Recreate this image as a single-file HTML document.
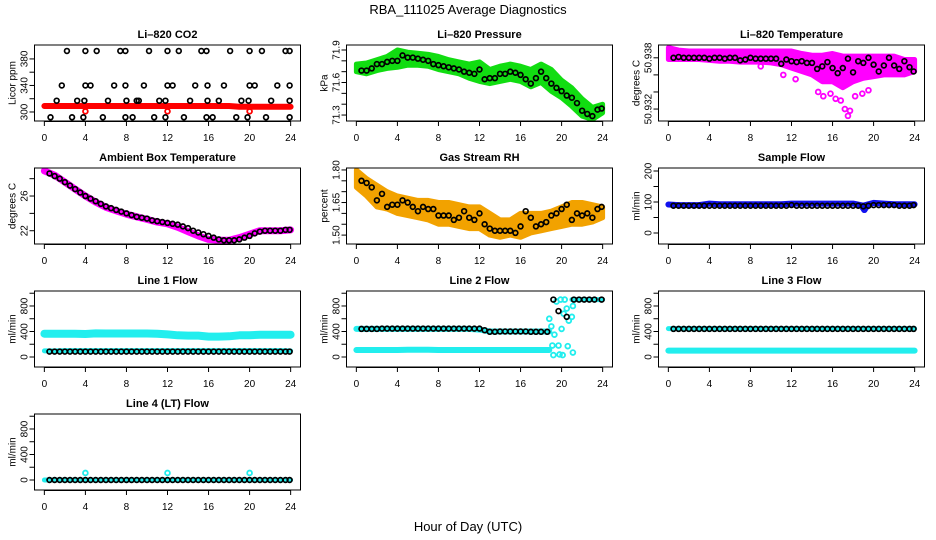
<!DOCTYPE html>
<html><head><meta charset="utf-8">
<style>
html,body{margin:0;padding:0;background:#fff;}
svg{display:block;font-family:"Liberation Sans",sans-serif;}
</style></head>
<body>
<svg id="chart" width="936" height="540" viewBox="0 0 936 540" xmlns="http://www.w3.org/2000/svg">
<rect x="0" y="0" width="936" height="540" fill="#fff"/>
<text x="468" y="14" text-anchor="middle" font-size="13">RBA_111025  Average Diagnostics</text>
<text x="468" y="531" text-anchor="middle" font-size="13">Hour of Day (UTC)</text>
</svg>
<script>
// shared hours for half-hourly averages
const H = [0.5,1,1.5,2,2.5,3,3.5,4,4.5,5,5.5,6,6.5,7,7.5,8,8.5,9,9.5,10,10.5,11,11.5,12,12.5,13,13.5,14,14.5,15,15.5,16,16.5,17,17.5,18,18.5,19,19.5,20,20.5,21,21.5,22,22.5,23,23.5,23.9];
const HH = [0,1,2,3,4,5,6,7,8,9,10,11,12,13,14,15,16,17,18,19,20,21,22,23,24];
const xTicks = [0,4,8,12,16,20,24];

// CO2
const co2Hours = [2.2,4,5.1,7.4,7.9,10.2,12,13.1,15.3,15.8,18.1,20,21.2,23.5,23.9, 1.7,4,4.5,6.8,7.9,9.7,12,12.5,14.7,15.9,17.5,20,20.5,22.7,23.9, 1.2,3.2,3.9,6.2,8,9,9.2,11.2,11.8,14.2,15.9,17,19.2,19.9,22.1,23.9, 0.6,2.7,3.8,5.7,7.9,8.6,10.7,11.8,13.6,15.8,16.4,18.7,19.8,21.6,23.9];
const co2Vals = [392,392,392,392,392,392,392,392,392,392,392,392,392,392,392, 340,340,340,340,340,340,340,340,340,340,340,340,340,340,340, 317,317,317,317,317,317,317,317,317,317,317,317,317,317,317,317, 292,292,292,292,292,292,292,292,292,292,292,292,292,292,292];
const co2Red = [309,309,309,309,309,309,309,309,309,309,309,309,309,309,309,309,309,309,309,308,308,308,308,308,308];
const co2RedPtsX = [4,12,20];
const co2RedPtsY = [301,301,301];

// Pressure
const presBlack = [71.71,71.71,71.73,71.77,71.77,71.79,71.8,71.8,71.85,71.83,71.83,71.82,71.81,71.80,71.77,71.76,71.75,71.74,71.73,71.72,71.70,71.69,71.68,71.72,71.63,71.64,71.64,71.68,71.68,71.70,71.69,71.67,71.63,71.59,71.64,71.70,71.64,71.59,71.55,71.52,71.48,71.46,71.41,71.34,71.31,71.29,71.35,71.36];
const presHi = [71.77,71.78,71.81,71.84,71.9,71.88,71.87,71.86,71.84,71.81,71.79,71.77,71.79,71.72,71.75,71.77,71.75,71.72,71.77,71.72,71.62,71.55,71.45,71.37,71.4];
const presLo = [71.7,71.68,71.71,71.73,71.74,71.76,71.76,71.75,71.72,71.70,71.68,71.64,71.61,71.59,71.61,71.63,71.61,71.56,71.6,71.52,71.46,71.38,71.29,71.26,71.32];

// Li-820 temperature
const tempBlack = [50.9380,50.9381,50.9380,50.9380,50.9380,50.9380,50.9380,50.9379,50.9380,50.9380,50.9379,50.9380,50.9380,50.9377,50.9378,50.9380,50.9379,50.9379,50.9379,50.9379,50.9379,50.9373,50.9378,50.9376,50.9375,50.9376,50.9374,50.9374,50.9367,50.9370,50.9375,50.9368,50.9362,50.9368,50.9379,50.9363,50.9376,50.9374,50.9380,50.9372,50.9364,50.9371,50.9380,50.9371,50.9367,50.9376,50.9369,50.9364];
const tempHi = [50.9392,50.9389,50.9388,50.9388,50.9388,50.9388,50.9388,50.9388,50.9388,50.9388,50.9388,50.9388,50.9388,50.9385,50.9383,50.9383,50.9385,50.9382,50.9382,50.9382,50.9382,50.9382,50.9382,50.9378,50.9378];
const tempLo = [50.9378,50.9378,50.9378,50.9378,50.9377,50.9376,50.9376,50.9375,50.9375,50.9375,50.9374,50.9372,50.9368,50.9364,50.9360,50.9352,50.9352,50.9345,50.9352,50.9356,50.9358,50.9360,50.9360,50.9360,50.9364];
const tempScatX = [14.6,15.1,15.8,16.3,16.8,17.2,17.5,17.7,18.2,18.9,19.5,11.2,12.4,9.0];
const tempScatY = [50.9340,50.9335,50.9338,50.9332,50.9330,50.9320,50.9312,50.9318,50.9335,50.9338,50.9342,50.9360,50.9355,50.9370];

// Ambient box temperature
const ambBlack = [28.6,28.3,28.0,27.6,27.2,26.8,26.4,26.0,25.7,25.4,25.1,24.8,24.6,24.4,24.2,24.0,23.8,23.6,23.5,23.4,23.2,23.1,23.0,22.9,22.8,22.7,22.5,22.3,22.0,21.8,21.6,21.4,21.2,21.0,20.9,20.9,20.9,21.0,21.2,21.4,21.7,21.9,22.0,22.0,22.0,22.0,22.1,22.1];
const ambMag = [28.9,28.4,27.6,26.8,26.0,25.3,24.7,24.3,23.9,23.6,23.3,23.0,22.8,22.4,21.9,21.4,21.0,20.9,20.9,21.2,21.6,22.0,22.0,22.0,22.1];

// Gas stream RH
const rhBlack = [1.75,1.74,1.72,1.66,1.69,1.63,1.64,1.64,1.66,1.65,1.63,1.61,1.63,1.62,1.62,1.59,1.59,1.59,1.57,1.58,1.61,1.58,1.57,1.60,1.55,1.53,1.52,1.52,1.52,1.52,1.51,1.54,1.61,1.58,1.54,1.55,1.56,1.59,1.60,1.62,1.64,1.57,1.60,1.59,1.60,1.58,1.62,1.63];
const rhHi = [1.80,1.76,1.73,1.70,1.68,1.67,1.66,1.66,1.65,1.65,1.64,1.63,1.63,1.60,1.57,1.57,1.60,1.60,1.60,1.61,1.63,1.65,1.65,1.64,1.63];
const rhLo = [1.72,1.68,1.63,1.62,1.60,1.59,1.58,1.57,1.55,1.55,1.54,1.53,1.53,1.50,1.49,1.50,1.49,1.51,1.52,1.53,1.54,1.55,1.55,1.56,1.58];

// Sample flow
const sfBlack = [88,88,88,88,88,88,88,88,88,88,88,88,88,88,88,88,88,88,88,88,88,88,88,90,88,88,88,88,88,88,88,88,88,88,88,88,88,86,88,90,90,90,90,90,88,88,88,90];
const sfBlue = [92,90,90,90,95,93,93,93,93,93,93,93,95,95,95,95,95,95,95,88,97,95,93,93,93];
const sfDipX = [19.0,19.1,19.2];
const sfDipY = [80,75,80];

// Line 1 flow
const l1Black = [85,85,85,85,85,85,85,85,85,85,85,85,85,85,85,85,85,85,85,85,85,85,85,85,85,85,85,85,85,85,85,85,85,85,85,85,85,85,85,85,85,85,85,85,85,85,85,85];
const l1CyanHi = [365,365,365,365,360,370,368,368,368,368,368,365,355,340,335,335,320,320,325,340,340,350,350,350,350];
const l1CyanLo = [95,95,100,100,100,100,100,100,100,100,100,100,100,100,100,100,100,100,100,100,100,100,100,100,95];

// Line 2 flow
const l2BlackX = [0.5,1,1.5,2,2.5,3,3.5,4,4.5,5,5.5,6,6.5,7,7.5,8,8.5,9,9.5,10,10.5,11,11.5,12,12.5,13,13.5,14,14.5,15,15.5,16,16.5,17,17.5,18,18.6,19.2,19.7,20.5,21.2,21.7,22.2,22.7,23.2,23.9];
const l2BlackY = [440,440,440,440,445,445,445,445,445,445,445,445,445,445,445,445,445,445,445,445,445,445,445,445,420,395,395,400,400,400,400,400,400,395,395,395,395,900,720,630,900,900,900,900,900,900];
const l2CyanHiX = [0,1,2,3,4,5,6,7,8,9,10,11,12,13,14,15,16,17,18,18.8];
const l2CyanHi = [440,440,440,440,440,440,440,440,440,440,440,440,430,400,400,400,400,400,400,400];
const l2CyanLoX = [0,1,2,3,4,5,6,7,8,9,10,11,12,13,14,15,16,17,18,18.8];
const l2CyanLo = [110,110,110,110,110,115,115,115,110,110,110,110,110,110,110,110,110,110,110,110];
const l2TopX = [21,22,23,24];
const l2Top = [900,900,900,900];
const l2ScatX = [18.8,19,19.1,19.2,19.3,19.5,19.7,19.8,19.9,20,20.1,20.2,20.3,20.5,20.6,20.7,21,21.1,21.1];
const l2ScatY = [600,480,180,30,350,870,180,40,900,440,30,680,900,760,170,570,630,800,70];

// Line 3 flow
const l3Black = [440,440,440,440,440,440,440,440,440,440,440,440,440,440,440,440,440,440,440,440,440,440,440,440,440,440,440,440,440,440,440,440,440,440,440,440,440,440,440,440,440,440,440,440,440,440,440,440];
const l3CyanHi = [445,445,445,445,445,445,445,445,445,445,445,445,445,445,445,445,445,445,445,445,445,445,445,445,445];
const l3CyanLo = [100,100,100,100,100,100,100,100,100,100,100,100,100,100,100,100,100,100,100,100,100,100,100,100,100];

// Line 4 flow
const l4Black = [0,0,0,0,0,0,0,0,0,0,0,0,0,0,0,0,0,0,0,0,0,0,0,0,0,0,0,0,0,0,0,0,0,0,0,0,0,0,0,0,0,0,0,0,0,0,0,0];
const l4Cyan = [0,0,0,0,0,0,0,0,0,0,0,0,0,0,0,0,0,0,0,0,0,0,0,0,0];
const l4SpikeX = [4,12,20];
const l4SpikeY = [110,110,110];

const NS = "http://www.w3.org/2000/svg";
const svg = document.getElementById('chart');
function mk(tag, attrs, parent){
  const e = document.createElementNS(NS, tag);
  for (const k in attrs) e.setAttribute(k, attrs[k]);
  (parent||svg).appendChild(e); return e;
}
const flowTicks = [0,200,400,600,800,1000];
const flowLabels = ["0","","400","","800",""];

const panels = [
 {name:'co2', col:0,row:0,title:'Li\u2013820 CO2',ylab:'Licor ppm',ymin:286.4,ymax:401,ticks:[300,320,340,360,380],labels:["300","","340","","380"],
  lines:[{x:HH,y:co2Red,c:'#ff0000',w:6}], pts:[{x:co2RedPtsX,y:co2RedPtsY,c:'#ff0000'}], black:{x:co2Hours,y:co2Vals}},
 {name:'pressure', col:1,row:0,title:'Li\u2013820 Pressure',ylab:'kPa',ymin:71.245,ymax:71.946,ticks:[71.3,71.4,71.5,71.6,71.7,71.8,71.9],labels:["71.3","","","71.6","","","71.9"],
  bands:[{x:HH,lo:presLo,hi:presHi,c:'#11dd11'}], black:{x:H,y:presBlack}},
 {name:'temperature', col:2,row:0,title:'Li\u2013820 Temperature',ylab:'degrees C',ymin:50.9306,ymax:50.9395,ticks:[50.932,50.934,50.936,50.938],labels:["50.932","","","50.938"],
  bands:[{x:HH,lo:tempLo,hi:tempHi,c:'#ff00ff'}], pts:[{x:tempScatX,y:tempScatY,c:'#ff00ff'}], black:{x:H,y:tempBlack}},
 {name:'ambient', col:0,row:1,title:'Ambient Box Temperature',ylab:'degrees C',ymin:20.47,ymax:29.23,ticks:[22,24,26,28],labels:["22","","26",""],
  lines:[{x:HH,y:ambMag,c:'#ff00ff',w:7}], black:{x:H,y:ambBlack}},
 {name:'rh', col:1,row:1,title:'Gas Stream RH',ylab:'percent',ymin:1.459,ymax:1.809,ticks:[1.5,1.55,1.6,1.65,1.7,1.75,1.8],labels:["1.50","","","1.65","","","1.80"],
  bands:[{x:HH,lo:rhLo,hi:rhHi,c:'#f2a200'}], black:{x:H,y:rhBlack}},
 {name:'sample-flow', col:2,row:1,title:'Sample Flow',ylab:'ml/min',ymin:-35.5,ymax:209.7,ticks:[0,50,100,150,200],labels:["0","","100","","200"],
  lines:[{x:HH,y:sfBlue,c:'#1010ee',w:6}], pts:[{x:sfDipX,y:sfDipY,c:'#1010ee'}], black:{x:H,y:sfBlack}},
 {name:'line1-flow', col:0,row:2,title:'Line 1 Flow',ylab:'ml/min',ymin:-157,ymax:1035,ticks:flowTicks,labels:flowLabels,
  lines:[{x:HH,y:l1CyanHi,c:'#22eeee',w:8},{x:HH,y:l1CyanLo,c:'#22eeee',w:5}], black:{x:H,y:l1Black}},
 {name:'line2-flow', col:1,row:2,title:'Line 2 Flow',ylab:'ml/min',ymin:-157,ymax:1035,ticks:flowTicks,labels:flowLabels,
  lines:[{x:l2CyanHiX,y:l2CyanHi,c:'#22eeee',w:6},{x:l2CyanLoX,y:l2CyanLo,c:'#22eeee',w:6},{x:l2TopX,y:l2Top,c:'#22eeee',w:5}],
  pts:[{x:l2ScatX,y:l2ScatY,c:'#22eeee'}], black:{x:l2BlackX,y:l2BlackY}},
 {name:'line3-flow', col:2,row:2,title:'Line 3 Flow',ylab:'ml/min',ymin:-157,ymax:1035,ticks:flowTicks,labels:flowLabels,
  lines:[{x:HH,y:l3CyanHi,c:'#22eeee',w:5},{x:HH,y:l3CyanLo,c:'#22eeee',w:6}], black:{x:H,y:l3Black}},
 {name:'line4-flow', col:0,row:3,title:'Line 4 (LT) Flow',ylab:'ml/min',ymin:-157,ymax:1035,ticks:flowTicks,labels:flowLabels,
  lines:[{x:HH,y:l4Cyan,c:'#22eeee',w:5}], pts:[{x:l4SpikeX,y:l4SpikeY,c:'#22eeee'}], black:{x:H,y:l4Black}}
];

panels.forEach(p => {
  const bx = 34.5 + 312*p.col, by = 45 + 123*p.row, bw = 266, bh = 76;
  const sx = h => bx + (h + 0.96) / 25.92 * bw;
  const sy = v => by + bh - (v - p.ymin) / (p.ymax - p.ymin) * bh;
  const g = mk('g', {});
  
  
  const clipId = 'clip-' + p.name;
  const cp = mk('clipPath', {id: clipId}, g);
  mk('rect', {x:bx, y:by, width:bw, height:bh}, cp);
  const plot = mk('g', {'clip-path':'url(#'+clipId+')'}, g);
  
  
  (p.bands||[]).forEach(b => {
    let d = b.x.map((h,i)=>(i?'L':'M')+sx(h).toFixed(1)+','+sy(b.hi[i]).toFixed(1)).join('');
    for (let i=b.x.length-1;i>=0;i--) d += 'L'+sx(b.x[i]).toFixed(1)+','+sy(b.lo[i]).toFixed(1);
    const e = mk('path', {d:d+'Z', fill:b.c, stroke:b.c, 'stroke-width':5, 'stroke-linejoin':'round'}, plot);
    
    
  });
  (p.lines||[]).forEach(l => {
    const d = l.x.map((h,i)=>(i?'L':'M')+sx(h).toFixed(1)+','+sy(l.y[i]).toFixed(1)).join('');
    const e = mk('path', {d:d, fill:'none', stroke:l.c, 'stroke-width':l.w, 'stroke-linejoin':'round','stroke-linecap':'round'}, plot);
    
    
  });
  (p.pts||[]).forEach(s => {
    s.x.forEach((h,i) => {
      const e = mk('circle', {cx:sx(h), cy:sy(s.y[i]), r:2.4, fill:'none', stroke:s.c, 'stroke-width':1.8}, plot);
      
      
    });
  });
  p.black.x.forEach((h,i) => {
    const e = mk('circle', {cx:sx(h), cy:sy(p.black.y[i]), r:2.4, fill:'none', stroke:'#000', 'stroke-width':1.7}, plot);
    
    
  });
  const box = mk('rect', {x:bx, y:by, width:bw, height:bh, fill:'none', stroke:'#000', 'stroke-width':1}, g);
  
  
  const t = mk('text', {x:bx+bw/2, y:by-7, 'text-anchor':'middle', 'font-size':11, 'font-weight':'bold'}, g);
  t.textContent = p.title;
  
  
  const yl = mk('text', {transform:'translate('+(bx-19)+','+(by+bh/2)+') rotate(-90)', 'text-anchor':'middle', 'font-size':10}, g);
  yl.textContent = p.ylab;
  
  
  mk('line', {x1:sx(0), x2:sx(24), y1:by+bh+0.5, y2:by+bh+0.5, stroke:'#000'}, g);
  xTicks.forEach(v => {
    mk('line', {x1:sx(v), x2:sx(v), y1:by+bh, y2:by+bh+5, stroke:'#000'}, g);
    const e = mk('text', {x:sx(v), y:by+bh+20, 'text-anchor':'middle', 'font-size':10}, g);
    e.textContent = v;
    
    
  });
  p.ticks.forEach((v,i) => {
    const y = sy(v);
    mk('line', {x1:bx-5, x2:bx, y1:y, y2:y, stroke:'#000'}, g);
    if (p.labels[i]) {
      const e = mk('text', {transform:'translate('+(bx-7)+','+y+') rotate(-90)', 'text-anchor':'middle', 'font-size':10}, g);
      e.textContent = p.labels[i];
      
      
    }
  });
});
</script>
</body></html>
